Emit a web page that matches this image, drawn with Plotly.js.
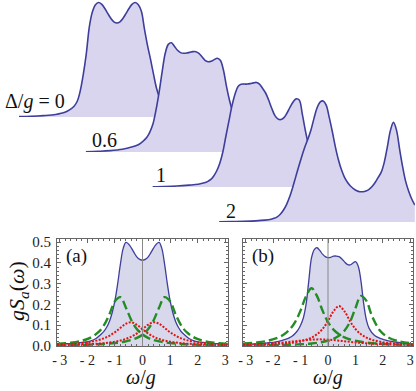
<!DOCTYPE html>
<html>
<head>
<meta charset="utf-8">
<script src="https://cdn.plot.ly/plotly-3.0.1.min.js"></script>
<style>html,body{margin:0;padding:0;background:#fff}</style>
</head>
<body>
<div id="chart" style="width:416px;height:391px"></div>
<script>
// ---- waterfall at the top: spectra for several detunings ----
const topW = [-3.2,-2.8,-2.4,-2.0,-1.7,-1.5,-1.4,-1.3,-1.2,-1.1,-1.0,-0.9,-0.8,-0.7,-0.6,-0.5,-0.4,-0.3,-0.2,-0.1,0,
  0.1,0.2,0.3,0.4,0.5,0.6,0.7,0.8,0.9,1.0,1.1,1.2,1.3,1.4,1.5,1.6,1.7,1.8,1.9,2.0,2.1,2.2,2.3,2.4,2.5,2.6,2.7,2.8,2.9,3.0,3.1,3.2];
const specD0 = [.002,.003,.006,.011,.020,.035,.046,.066,.11,.18,.27,.385,.448,.478,.487,.480,.463,.441,.420,.405,.400,
  .405,.420,.441,.463,.480,.487,.478,.450,.375,.305,.245,.18,.12,.08,.055,.04,.03,.024,.019,.015,.012,.010,.009,.008,.007,.006,.0055,.005,.0045,.004,.0035,.003];
const specD06 = [.001,.003,.006,.012,.021,.030,.038,.049,.063,.086,.12,.18,.255,.342,.42,.458,.465,.450,.433,.423,.420,
  .421,.424,.427,.427,.42,.405,.39,.384,.386,.393,.399,.39,.35,.28,.22,.172,.13,.10,.078,.062,.05,.041,.034,.029,.025,.021,.018,.016,.014,.012,.010,.009];
const specD1 = [.001,.002,.004,.008,.012,.018,.023,.031,.046,.068,.10,.148,.215,.28,.345,.395,.428,.437,.438,.438,.44,
  .443,.445,.438,.42,.40,.37,.335,.305,.29,.287,.295,.315,.34,.362,.375,.37,.31,.24,.18,.135,.10,.075,.058,.046,.037,.03,.025,.021,.018,.016,.014,.012];
const specD2 = [.001,.002,.003,.005,.008,.012,.016,.022,.033,.05,.073,.105,.145,.19,.235,.278,.318,.352,.39,.44,.485,
  .51,.515,.497,.445,.385,.32,.265,.222,.19,.168,.152,.141,.133,.129,.129,.132,.139,.151,.168,.19,.212,.255,.32,.39,.424,.39,.31,.235,.172,.13,.097,.072];
const topSpectra = [specD0, specD06, specD1, specD2];
const deltaLabels = ['Δ/<i>g</i> = 0', '0.6', '1', '2'];

// ---- bottom panels (a) and (b) ----
const wFine = [-3.1,-2.8,-2.5,-2.2,-1.9,-1.7,-1.5,-1.4,-1.3,-1.2,-1.1,-1.0,-0.9,-0.8,-0.7,-0.6,-0.5,-0.4,-0.3,-0.2,-0.1,0,
  0.1,0.2,0.3,0.4,0.5,0.6,0.7,0.8,0.9,1.0,1.1,1.2,1.3,1.4,1.5,1.7,1.9,2.2,2.5,2.8,3.1];
const totalA = [.009,.011,.013,.017,.024,.035,.057,.070,.090,.118,.160,.218,.300,.395,.470,.499,.490,.471,.448,.428,.417,.413,
  .417,.428,.448,.471,.490,.499,.470,.395,.300,.218,.160,.118,.090,.070,.057,.035,.024,.017,.013,.011,.009];
const totalB = [.007,.009,.011,.015,.020,.026,.034,.040,.048,.060,.076,.100,.135,.200,.315,.425,.464,.473,.460,.442,.430,.425,
  .427,.432,.433,.430,.420,.405,.393,.390,.398,.406,.385,.315,.205,.125,.085,.050,.037,.025,.018,.013,.010];

const wComp = [-3.1,-2.6,-2.2,-1.9,-1.6,-1.4,-1.2,-1.0,-0.8,-0.6,-0.4,-0.2,0,0.2,0.4,0.6,0.8,1.0,1.2,1.4,1.6,1.9,2.2,2.6,3.1];
const greenA1 = [.0098,.0158,.0253,.0392,.0663,.0994,.152,.215,.235,.184,.123,.0807,.055,.0392,.029,.0223,.0176,.0142,.0117,.0098,.0083,.0066,.0054,.0043,.0033];
const greenA2 = [.0033,.0043,.0054,.0066,.0083,.0098,.0117,.0142,.0176,.0223,.029,.0392,.055,.0807,.123,.184,.235,.215,.152,.0994,.0663,.0392,.0253,.0158,.0098];
const redA1 = [.0068,.0100,.0144,.0198,.0283,.037,.0493,.0663,.0875,.107,.114,.102,.0809,.0607,.0452,.0341,.0262,.0207,.0166,.0136,.0113,.0088,.0070,.0054,.0040];
const redA2 = [.0040,.0054,.0070,.0088,.0113,.0136,.0166,.0207,.0262,.0341,.0452,.0607,.0809,.102,.114,.107,.0875,.0663,.0493,.037,.0283,.0198,.0144,.0100,.0068];
const greenB1 = [.0109,.0166,.0251,.0363,.0563,.079,.115,.171,.240,.278,.240,.171,.115,.079,.0563,.0417,.0319,.0251,.0202,.0166,.0139,.0109,.0087,.0067,.0051];
const greenB2 = [.0023,.0030,.0037,.0044,.0053,.0062,.0072,.0085,.0101,.0123,.0153,.0194,.0254,.0345,.049,.0734,.1154,.182,.241,.217,.146,.0734,.0409,.0221,.0123];
const redB1 = [.0041,.0055,.0073,.0092,.0120,.0146,.0181,.0230,.030,.0405,.0566,.0818,.120,.167,.192,.167,.120,.0818,.0566,.0405,.030,.0204,.0146,.0100,.0068];
const redB2 = [.0065,.0088,.0114,.014,.0173,.020,.0228,.0257,.0284,.0306,.0318,.0318,.0306,.0284,.0257,.0228,.020,.0173,.0151,.0131,.0114,.0094,.0078,.0061,.0047];

const xTicks = [-3,-2,-1,0,1,2,3];
const xTickText = ['- 3','- 2','- 1','0','1','2','3'];

const W = 416, H = 391;
const fx = px => px / W;
const fy = px => 1 - px / H;

const blue = 'rgb(62,62,155)';
const serif = 'Liberation Serif';

const traces = [];
const layout = {
  width: W, height: H,
  margin: {l: 0, r: 0, t: 0, b: 0},
  paper_bgcolor: '#fff', plot_bgcolor: 'rgba(0,0,0,0)',
  showlegend: false,
  font: {family: serif},
  shapes: [], annotations: []
};

/* bottom panels */
function panel(n, xDom, total, comps) {
  const xa = n === 1 ? 'x' : 'x' + n, ya = n === 1 ? 'y' : 'y' + n;
  traces.push({x: wFine, y: total, xaxis: xa, yaxis: ya, mode: 'lines', line: {color: blue, width: 1.3, shape: 'spline'},
    fill: 'tozeroy', fillcolor: 'rgb(216,216,236)'});
  comps.forEach(c => {
    traces.push({x: wComp, y: c.y, xaxis: xa, yaxis: ya, mode: 'lines',
      line: {color: c.color, width: c.width, dash: c.dash, shape: 'spline'}});
  });
  const ax = {
    domain: xDom, range: [-3.1, 3.1], anchor: ya,
    tickmode: 'array', tickvals: xTicks, ticktext: xTickText,
    ticks: 'inside', ticklen: 4, tickcolor: '#666', showline: true, linecolor: '#666', linewidth: 1,
    mirror: 'allticks', showgrid: false, zeroline: false, ticklabelstandoff: 1,
    minor: {tickmode: 'linear', tick0: 0, dtick: 0.2, ticks: 'inside', ticklen: 2, tickcolor: '#666'},
    tickfont: {family: serif, size: 14, color: '#222'}
  };
  const ay = {
    domain: [fy(346), fy(239)], range: [0, 0.515], anchor: xa,
    tickmode: 'linear', tick0: 0, dtick: 0.1, tickformat: '.1f',
    ticks: 'inside', ticklen: 4, tickcolor: '#666', showline: true, linecolor: '#666', linewidth: 1,
    mirror: 'allticks', showgrid: false, zeroline: false, showticklabels: n === 1, ticklabelstandoff: 2,
    minor: {tickmode: 'linear', tick0: 0, dtick: 0.02, ticks: 'inside', ticklen: 2, tickcolor: '#666'},
    tickfont: {family: serif, size: 15, color: '#222'}
  };
  layout[n === 1 ? 'xaxis' : 'xaxis' + n] = ax;
  layout[n === 1 ? 'yaxis' : 'yaxis' + n] = ay;
  layout.shapes.push({type: 'line', xref: xa, yref: ya + ' domain', x0: 0, x1: 0, y0: 0, y1: 1,
    line: {color: '#888', width: 1}, layer: 'above'});
}

const green = 'rgb(35,140,35)', red = 'rgb(225,20,20)';
const gDash = '9px,4px', rDot = '2px,1.5px';
panel(1, [fx(57), fx(228)], totalA, [
  {y: greenA1, color: green, width: 2.4, dash: gDash},
  {y: greenA2, color: green, width: 2.4, dash: gDash},
  {y: redA1, color: red, width: 2, dash: rDot},
  {y: redA2, color: red, width: 2, dash: rDot}
]);
panel(2, [fx(243), fx(413)], totalB, [
  {y: greenB1, color: green, width: 2.4, dash: gDash},
  {y: greenB2, color: green, width: 2.4, dash: gDash},
  {y: redB1, color: red, width: 2, dash: rDot},
  {y: redB2, color: red, width: 2, dash: rDot}
]);

/* waterfall: one hidden subplot per curve, later ones drawn on top */
const topX0 = 19, topDX = 66.7, topXW = 195.8;
const topB0 = 117, topDY = 35, topScale = 235;
topSpectra.forEach((s, k) => {
  const n = k + 3;
  const yMax = k === 0 ? 0.496 : 0.56;
  const base = topB0 + topDY * k;
  traces.push({x: topW, y: s, xaxis: 'x' + n, yaxis: 'y' + n, mode: 'lines',
    line: {color: blue, width: 1.6, shape: 'spline'}, fill: 'tozeroy', fillcolor: 'rgb(217,213,239)'});
  layout['xaxis' + n] = {domain: [fx(topX0 + topDX * k), fx(topX0 + topDX * k + topXW)], range: [-3.2, 3.2],
    anchor: 'y' + n, visible: false};
  layout['yaxis' + n] = {domain: [fy(base), fy(base - yMax * topScale)], range: [0, yMax],
    anchor: 'x' + n, visible: false};
});

const labelPos = [[67, 101, 'right'], [104, 140, 'center'], [161, 175, 'center'], [230.5, 211, 'center']];
deltaLabels.forEach((t, k) => {
  layout.annotations.push({text: t, xref: 'paper', yref: 'paper', x: fx(labelPos[k][0]), y: fy(labelPos[k][1]),
    xanchor: labelPos[k][2], yanchor: 'middle', showarrow: false, font: {family: serif, size: 20, color: '#111'}});
});

// panel tags and axis titles
const txt = (t, x, y, size, extra) => Object.assign({text: t, xref: 'paper', yref: 'paper', x: fx(x), y: fy(y),
  xanchor: 'center', yanchor: 'middle', showarrow: false, font: {family: serif, size: size, color: '#111'}}, extra || {});
layout.annotations.push(txt('(a)', 76, 256, 19));
layout.annotations.push(txt('(b)', 263, 256, 19));
layout.annotations.push(txt('<i>ω</i>/<i>g</i>', 141, 391, 20, {yanchor: 'bottom'}));
layout.annotations.push(txt('<i>ω</i>/<i>g</i>', 328, 391, 20, {yanchor: 'bottom'}));
layout.annotations.push(txt('<i>gS<sub>a</sub></i>(<i>ω</i>)', 18, 291, 22, {textangle: -90}));

Plotly.newPlot('chart', traces, layout, {staticPlot: true});
</script>
</body>
</html>
